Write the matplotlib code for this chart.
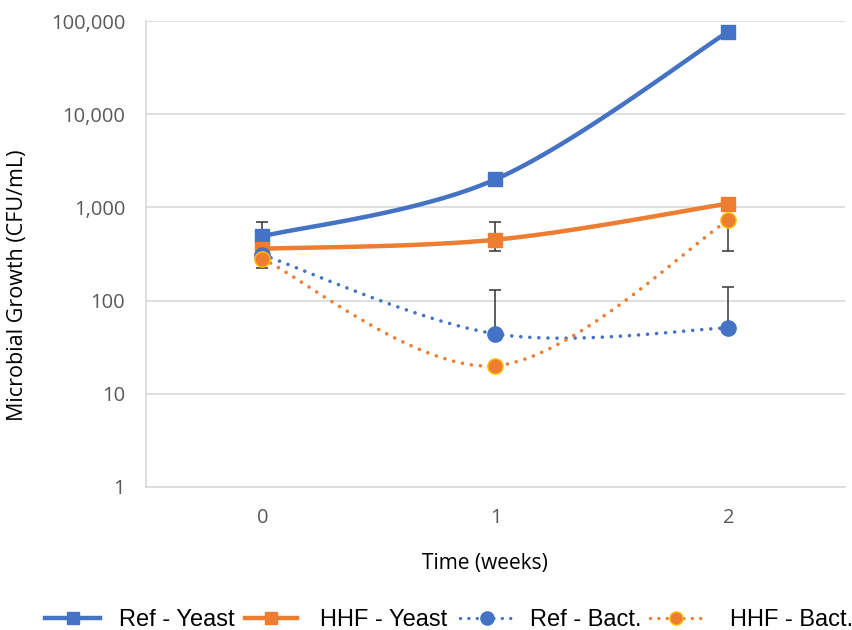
import numpy as np
import matplotlib
matplotlib.use("Agg")
import matplotlib.pyplot as plt
from matplotlib.lines import Line2D
from matplotlib.ticker import FixedLocator, NullLocator

# Data: microbial counts (CFU/mL) over storage time
weeks = [0, 1, 2]
ref_yeast = [490, 2000, 77000]
hhf_yeast = [360, 450, 1100]
ref_bact = [310, 44, 51]
hhf_bact = [280, 20, 730]

# error bar limits (absolute values), nan where no bar is drawn
ref_yeast_lo = [np.nan, np.nan, np.nan]
ref_yeast_hi = [700, np.nan, np.nan]
hhf_yeast_lo = [np.nan, 340, np.nan]
hhf_yeast_hi = [np.nan, 700, np.nan]
ref_bact_lo = [np.nan, np.nan, np.nan]
ref_bact_hi = [np.nan, 130, 140]
hhf_bact_lo = [225, np.nan, 340]
hhf_bact_hi = [np.nan, np.nan, np.nan]

y_ticks = [1, 10, 100, 1000, 10000, 100000]

BLUE = "#4472C4"
ORANGE = "#ED7D31"
GRID = "#D9D9D9"
TICK = "#595959"

W, H = 853, 630
X_PX, DEC_PX = 233.0, 93.2  # px per category step / per decade


def smooth(xs, ys, n=60):
    """Bezier-smoothed line through the points, computed in screen-like units."""
    pts = np.column_stack([np.asarray(xs, float) * X_PX,
                           np.log10(np.asarray(ys, float)) * DEC_PX])
    P = np.vstack([pts[0], pts, pts[-1]])
    t = np.linspace(0, 1, n)[:, None]
    segs = []
    for i in range(len(pts) - 1):
        p0, p1, p2, p3 = P[i], P[i + 1], P[i + 2], P[i + 3]
        c1 = p1 + (p2 - p0) / 6
        c2 = p2 - (p3 - p1) / 6
        seg = (1 - t) ** 3 * p1 + 3 * (1 - t) ** 2 * t * c1 + 3 * (1 - t) * t ** 2 * c2 + t ** 3 * p2
        segs.append(seg if i == 0 else seg[1:])
    c = np.vstack(segs)
    return c[:, 0] / X_PX, 10 ** (c[:, 1] / DEC_PX)


fig = plt.figure(figsize=(W / 100, H / 100), dpi=100)
ax = fig.add_axes([146 / W, 1 - 487 / H, 699 / W, 466 / H])

dotted = (0, (0.01, 2.5))
series = [
    (ref_yeast, ref_yeast_lo, ref_yeast_hi, BLUE, "-", 3.2, "s", 10.5, BLUE),
    (hhf_yeast, hhf_yeast_lo, hhf_yeast_hi, ORANGE, "-", 3.2, "s", 10.5, ORANGE),
    (ref_bact, ref_bact_lo, ref_bact_hi, BLUE, dotted, 2.6, "o", 11, BLUE),
    (hhf_bact, hhf_bact_lo, hhf_bact_hi, ORANGE, dotted, 2.6, "o", 11, "#FFC000"),
]

for k, (vals, lo, hi, color, ls, lw, mk, ms, edge) in enumerate(series):
    z = 3 + k * 3
    vals = np.array(vals, float)
    lo = np.array(lo, float)
    hi = np.array(hi, float)
    has = ~(np.isnan(lo) & np.isnan(hi))
    if has.any():
        x_e = np.array(weeks)[has]
        y_e = vals[has]
        minus = np.nan_to_num(y_e - lo[has], nan=0.0)
        plus = np.nan_to_num(hi[has] - y_e, nan=0.0)
        ax.errorbar(x_e, y_e, yerr=[minus, plus], fmt="none", ecolor="#333333",
                    elinewidth=1.1, capsize=4.5, capthick=1.1, zorder=z)
    sx, sy = smooth(weeks, vals)
    ax.plot(sx, sy, color=color, lw=lw, ls=ls, dash_capstyle="round",
            solid_capstyle="butt", zorder=z + 1)
    ax.plot(weeks, vals, ls="none", marker=mk, ms=ms, color=color,
            mec=edge, mew=1.0, zorder=z + 2)

ax.set_yscale("log")
ax.set_ylim(1, 100000)
ax.set_xlim(-0.5, 2.5)
ax.yaxis.set_major_locator(FixedLocator(y_ticks))
ax.yaxis.set_minor_locator(NullLocator())
ax.set_yticklabels([f"{v:,}" for v in y_ticks])
ax.set_xticks(weeks)
ax.set_xticklabels([str(w) for w in weeks])
ax.tick_params(axis="both", length=0, labelsize=14.5, labelcolor=TICK)
ax.tick_params(axis="y", pad=15)
ax.tick_params(axis="x", pad=15)
for lab in ax.get_xticklabels() + ax.get_yticklabels():
    lab.set_family("Open Sans")

ax.grid(axis="y", color=GRID, lw=1.2)
ax.set_axisbelow(True)
for side in ["top", "right"]:
    ax.spines[side].set_visible(False)
for side in ["left", "bottom"]:
    ax.spines[side].set_color(GRID)
    ax.spines[side].set_linewidth(1.2)

fig.text(18 / W, 1 - 285 / H, "Microbial Growth (CFU/mL)", rotation=90,
         ha="center", va="center", fontsize=15.5, family="Open Sans")
fig.text(485 / W, 1 - 564 / H, "Time (weeks)", ha="center", va="center",
         fontsize=15, family="Open Sans")

# legend row along the bottom
legend_items = [
    ("Ref - Yeast", BLUE, "-", 3.2, "s", 8, BLUE, 45, 100, 119),
    ("HHF - Yeast", ORANGE, "-", 3.2, "s", 8, ORANGE, 245, 297, 320),
    ("Ref - Bact.", BLUE, dotted, 2.4, "o", 9.5, BLUE, 460, 515, 530),
    ("HHF - Bact.", ORANGE, dotted, 2.4, "o", 9.5, "#FFC000", 650, 703, 730),
]
ly = 1 - 618 / H
for label, color, ls, lw, mk, ms, edge, x0, x1, tx in legend_items:
    xs = np.array([x0, (x0 + x1) / 2, x1]) / W
    fig.add_artist(Line2D(xs, [ly] * 3, transform=fig.transFigure, color=color,
                          lw=lw, ls=ls, dash_capstyle="round", marker=mk,
                          markevery=[1], ms=ms, mec=edge, mew=1.0))
    fig.text(tx / W, ly, label, ha="left", va="center_baseline", fontsize=17,
             family="Liberation Sans")

fig.savefig("out.png", dpi=100)
